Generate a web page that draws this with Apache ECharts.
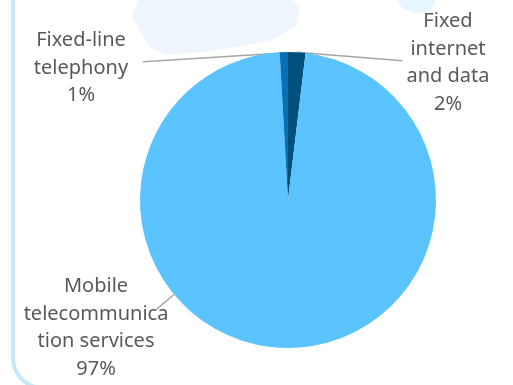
<!DOCTYPE html>
<html>
<head>
<meta charset="utf-8">
<script src="https://cdn.jsdelivr.net/npm/echarts@6/dist/echarts.min.js"></script>
<style>
  html, body { margin: 0; padding: 0; background: #ffffff; }
  #main { width: 513px; height: 385px; }
</style>
</head>
<body>
<div id="main"></div>
<script>
// slices, clockwise from 12 o'clock
var categories = ['Fixed internet and data', 'Mobile telecommunication services', 'Fixed-line telephony'];
var shares = [1.9, 97.2, 0.9];
var labelTexts = ['Fixed\ninternet\nand data', 'Mobile\ntelecommunica\ntion services', 'Fixed-line\ntelephony'];
var sliceColors = ['#02507E', '#5BC4FE', '#0A70B6'];

// where each label block sits (centre x, top y)
var labelSpots = [[448, 8], [96, 273], [81, 27]];

var pieCenter = [288, 200];
var pieRadius = 148;

var myChart = echarts.init(document.getElementById('main'));

var seriesData = [];
for (var i = 0; i < categories.length; i++) {
  seriesData.push({
    name: categories[i],
    value: shares[i],
    itemStyle: { color: sliceColors[i] }
  });
}

// leader line from the label to the pie
function leader(params) {
  var s = labelSpots[params.dataIndex];
  var w = params.labelRect.width, h = params.labelRect.height;
  var left = s[0] - w / 2, right = s[0] + w / 2, top = s[1];
  var edge = params.labelLinePoints ? params.labelLinePoints[0] : [pieCenter[0], pieCenter[1] - pieRadius];
  if (params.dataIndex === 0) {
    return [[edge[0], edge[1]], [left - 4, top + h * 0.48]];
  }
  if (params.dataIndex === 2) {
    return [[edge[0] - 1, edge[1] + 1], [right + 15, top + h * 0.42]];
  }
  // big slice: go to the nearest point of the circle
  var p = [right - 12, top + h * 0.33];
  var dx = p[0] - pieCenter[0], dy = p[1] - pieCenter[1];
  var d = Math.sqrt(dx * dx + dy * dy);
  return [[pieCenter[0] + dx / d * pieRadius, pieCenter[1] + dy / d * pieRadius], p];
}

var option = {
  backgroundColor: '#ffffff',
  animation: false,
  graphic: [
    {
      // faint map picture behind the chart top
      type: 'polygon',
      silent: true,
      z: -10,
      shape: {
        points: [[138, 0], [292, 0], [300, 8], [296, 26], [272, 40], [240, 46], [205, 52], [165, 55], [148, 46], [140, 30], [132, 16]]
      },
      style: { fill: '#EDF4FC', opacity: 0.9 }
    },
    {
      type: 'polygon',
      silent: true,
      z: -10,
      shape: { points: [[398, 0], [436, 0], [432, 9], [418, 14], [402, 8]] },
      style: { fill: '#E4F4FC', opacity: 0.9 }
    },
    {
      // frame on the left / bottom
      type: 'rect',
      silent: true,
      z: -5,
      shape: { x: 13, y: -40, width: 620, height: 428, r: 30 },
      style: { fill: 'none', stroke: '#C6E9FA', lineWidth: 4 }
    }
  ],
  series: [{
    name: 'Revenue',
    type: 'pie',
    radius: pieRadius,
    center: pieCenter,
    startAngle: 90,
    clockwise: true,
    data: seriesData,
    label: {
      show: true,
      position: 'outside',
      fontFamily: 'Noto Sans',
      fontSize: 20,
      lineHeight: 27.5,
      color: '#595959',
      align: 'center',
      formatter: function (params) {
        return labelTexts[params.dataIndex] + '\n' + Math.round(params.percent) + '%';
      }
    },
    labelLine: {
      show: true,
      length: 10,
      length2: 10,
      lineStyle: { color: '#A6A6A6', width: 1.5 }
    },
    labelLayout: function (params) {
      var s = labelSpots[params.dataIndex];
      return {
        x: s[0],
        y: s[1],
        align: 'center',
        verticalAlign: 'top',
        labelLinePoints: leader(params)
      };
    }
  }]
};
myChart.setOption(option);
</script>
</body>
</html>
